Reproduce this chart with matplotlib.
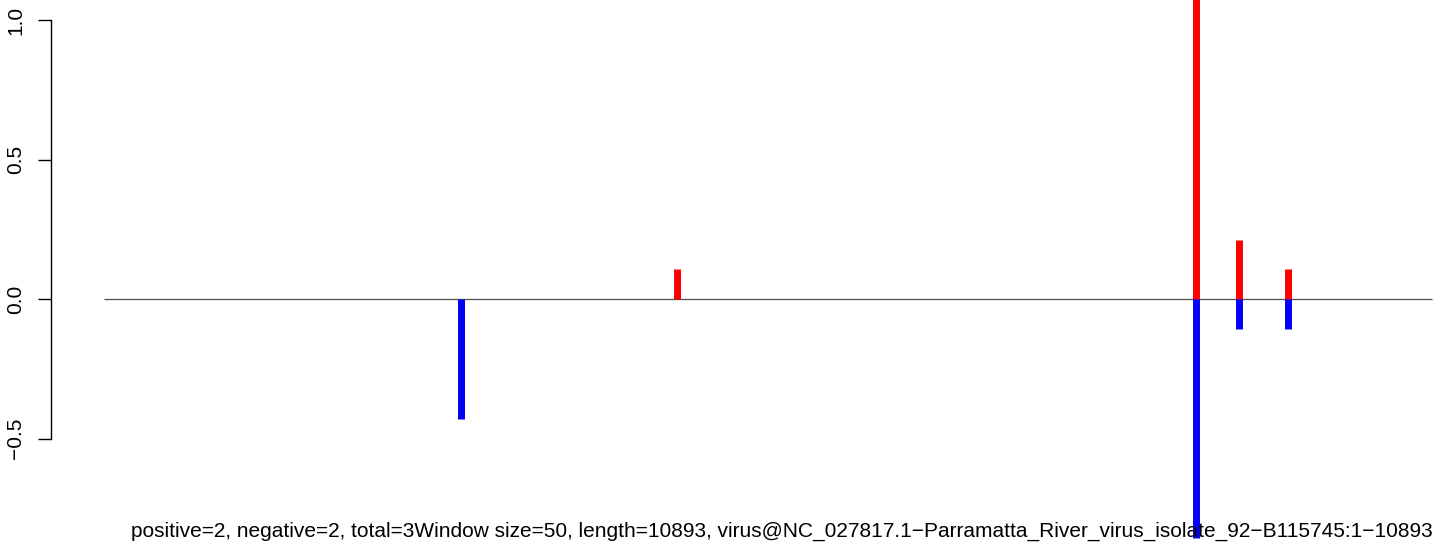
#/usr/bin/python3

import matplotlib
matplotlib.use('Agg')
import matplotlib.pyplot as plt

plt.rcParams['font.family'] = ['Liberation Sans', 'DejaVu Sans']

genome_length = 10893
window_size = 50

# window positions with a signal, and the positive / negative strand scores
positions = [2925, 4700, 8960, 9310, 9715]
positive = [0.0, 0.107, 1.1, 0.214, 0.107]
negative = [-0.429, 0.0, -0.857, -0.107, -0.107]

yticks = [-0.5, 0.0, 0.5, 1.0]
ytick_labels = ['\u22120.5', '0.0', '0.5', '1.0']

title = ('positive=2, negative=2, total=3'
         'Window size=50, length=10893, '
         'virus@NC_027817.1\u2212Parramatta_River_virus_isolate_92\u2212B115745:1\u221210893')


def plot_windows():
    fig = plt.figure(figsize=(14.44, 5.5), dpi=100)
    ax = fig.add_axes([51 / 1444, 0.0, 1 - 51 / 1444, 1.0])

    ax.hlines(0, 1, genome_length, color='#4d4d4d', linewidth=0.9, zorder=1)
    ax.vlines(positions, 0, positive, color='#ff0000', linewidth=5.0,
              capstyle='butt', zorder=2)
    ax.vlines(positions, 0, negative, color='#0000ff', linewidth=5.0,
              capstyle='butt', zorder=2)

    ax.set_xlim(-433.7, 10991)
    ax.set_ylim(-0.899, 1.0735)

    for side in ['top', 'right', 'bottom']:
        ax.spines[side].set_visible(False)
    ax.spines['left'].set_bounds(-0.5, 1.0)
    ax.spines['left'].set_linewidth(1.0)
    ax.set_xticks([])
    ax.set_yticks(yticks)
    ax.set_yticklabels(ytick_labels, rotation=90, va='center', fontsize=15)
    ax.tick_params(axis='y', length=9.4, width=1.0, pad=9)

    fig.text(782 / 1444, 1 - 537 / 550, title, ha='center', va='baseline',
             fontsize=15)
    fig.savefig('out.png', dpi=100)


if __name__ == '__main__':
    plot_windows()
